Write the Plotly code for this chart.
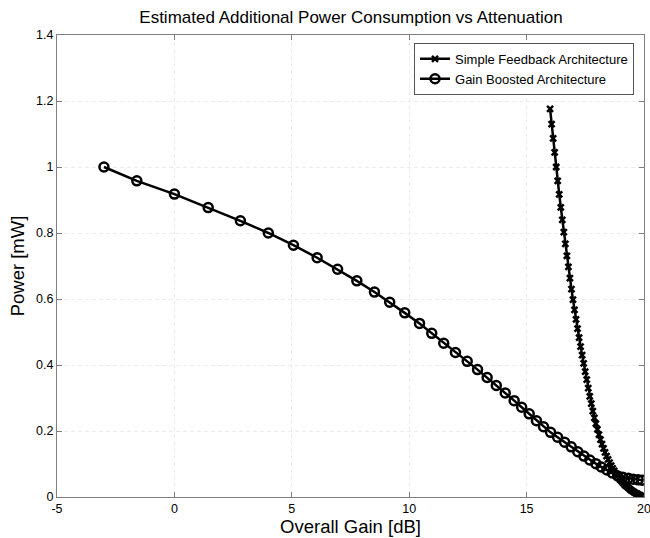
import plotly.graph_objects as go

# Gain Boosted Architecture
gb_gain = [-3.0, -1.6, 0.0, 1.44, 2.81, 4.0, 5.07, 6.08, 6.95, 7.77, 8.52, 9.17, 9.81,
           10.44, 10.96, 11.47, 11.97, 12.47, 12.91, 13.32, 13.71, 14.09, 14.47, 14.79,
           15.11, 15.42, 15.72, 16.02, 16.32, 16.62, 16.9, 17.18, 17.44, 17.69, 17.95,
           18.18, 18.42, 18.65, 18.88, 19.1, 19.33, 19.54, 19.75, 19.92]
gb_power = [1.0, 0.958, 0.918, 0.877, 0.837, 0.800, 0.763, 0.725, 0.690, 0.655, 0.621,
            0.590, 0.558, 0.526, 0.496, 0.466, 0.438, 0.411, 0.386, 0.362, 0.338, 0.315,
            0.292, 0.272, 0.252, 0.231, 0.213, 0.196, 0.181, 0.166, 0.152, 0.137, 0.124,
            0.112, 0.101, 0.091, 0.082, 0.073, 0.064, 0.060, 0.057, 0.054, 0.052, 0.051]

# Simple Feedback Architecture
sf_gain = [16.0, 16.065, 16.13, 16.195, 16.26, 16.325, 16.39, 16.455, 16.52, 16.585,
           16.65, 16.715, 16.78, 16.845, 16.91, 16.975, 17.04, 17.105, 17.17, 17.235,
           17.3, 17.365, 17.43, 17.495, 17.56, 17.625, 17.69, 17.755, 17.82, 17.885,
           17.95, 18.015, 18.08, 18.145, 18.21, 18.275, 18.34, 18.405, 18.47, 18.535,
           18.6, 18.665, 18.73, 18.795, 18.86, 18.925, 18.99, 19.055, 19.12, 19.185,
           19.25, 19.315, 19.38, 19.445, 19.51, 19.575, 19.64, 19.705, 19.77, 19.835, 19.9]
sf_power = [1.176, 1.130, 1.087, 1.044, 1.000, 0.958, 0.917, 0.878, 0.840, 0.803,
            0.767, 0.731, 0.697, 0.663, 0.630, 0.598, 0.567, 0.538, 0.510, 0.483,
            0.456, 0.430, 0.405, 0.380, 0.356, 0.330, 0.305, 0.283, 0.260, 0.240,
            0.222, 0.205, 0.189, 0.174, 0.160, 0.147, 0.135, 0.124, 0.114, 0.104,
            0.095, 0.087, 0.079, 0.071, 0.064, 0.058, 0.052, 0.047, 0.042, 0.037,
            0.033, 0.029, 0.025, 0.021, 0.018, 0.015, 0.012, 0.010, 0.007, 0.005, 0.003]

x_ticks = [-5, 0, 5, 10, 15, 20]
y_ticks = [0, 0.2, 0.4, 0.6, 0.8, 1, 1.2, 1.4]
y_tick_text = ["0", "0.2", "0.4", "0.6", "0.8", "1", "1.2", "1.4"]

FONT = "Liberation Sans, Arial, sans-serif"

fig = go.Figure()
fig.add_trace(go.Scatter(
    x=sf_gain, y=sf_power, mode="lines+markers", name="Simple Feedback Architecture",
    line=dict(color="black", width=2.5),
    marker=dict(symbol="x-thin-open", size=6, color="black", line=dict(color="black", width=2.5)),
))
fig.add_trace(go.Scatter(
    x=gb_gain, y=gb_power, mode="lines+markers", name="Gain Boosted Architecture",
    line=dict(color="black", width=2.5),
    marker=dict(symbol="circle-open", size=9, color="black", line=dict(color="black", width=2.5)),
))

axis_common = dict(
    showline=True, linecolor="#7f7f7f", linewidth=1, mirror="ticks",
    ticks="inside", ticklen=5, tickcolor="#7f7f7f",
    showgrid=True, gridcolor="#ececec", griddash="4px,3px", gridwidth=1,
    zeroline=False, tickfont=dict(family=FONT, size=12.5, color="black"),
    ticklabeloverflow="allow", automargin=False,
)

fig.update_layout(
    width=650, height=538,
    margin=dict(l=57, r=6, t=35, b=41, autoexpand=False),
    paper_bgcolor="white", plot_bgcolor="white",
    font=dict(family=FONT, color="black"),
    title=dict(text="Estimated Additional Power Consumption vs Attenuation",
               x=0.54, xanchor="center", y=1 - 17 / 538, yanchor="middle",
               yref="container", font=dict(family=FONT, size=17, color="black")),
    xaxis=dict(range=[-5, 20], tickvals=x_ticks, ticktext=[str(v) for v in x_ticks],
               title=dict(text="Overall Gain [dB]", font=dict(family=FONT, size=18.5), standoff=3),
               **axis_common),
    yaxis=dict(range=[0, 1.4], tickvals=y_ticks, ticktext=y_tick_text,
               title=dict(text="Power [mW]", font=dict(family=FONT, size=18.5), standoff=6),
               **axis_common),
    legend=dict(x=0.983, y=0.983, xanchor="right", yanchor="top",
                bgcolor="white", bordercolor="#555555", borderwidth=1,
                font=dict(family=FONT, size=13, color="black"),
                tracegroupgap=0, itemwidth=30),
    showlegend=True,
)

fig.write_html("out.html")
